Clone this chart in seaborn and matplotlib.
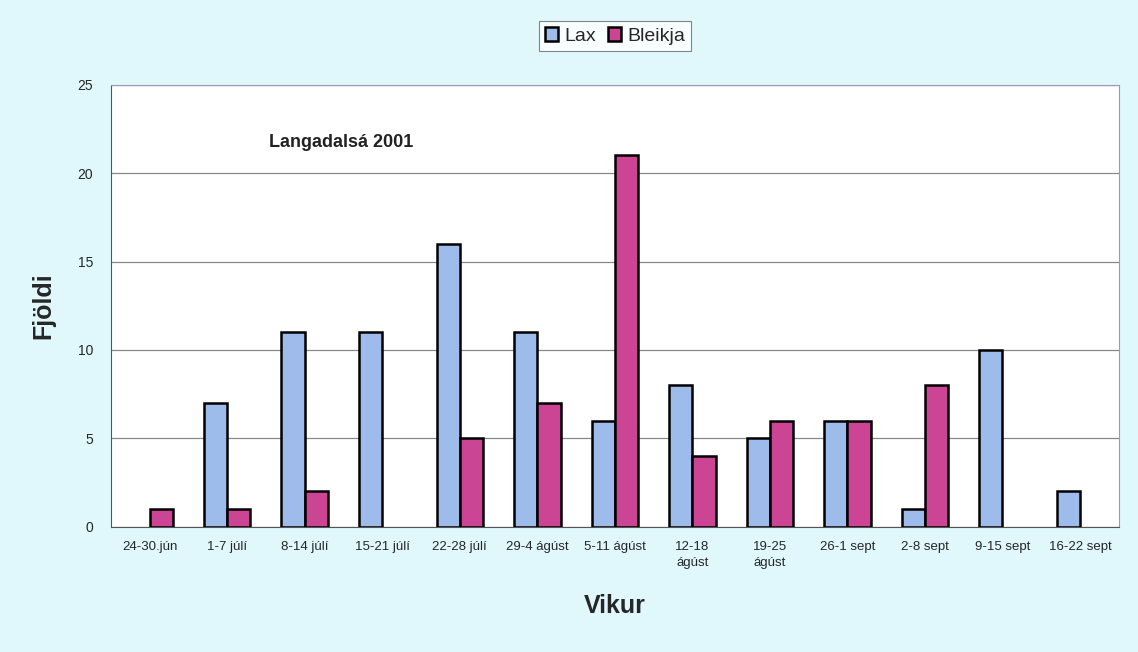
import pandas as pd
import numpy as np
import seaborn as sns
from matplotlib import pyplot as plt

vikur = ['24-30.jún', '1-7 júlí', '8-14 júlí', '15-21 júlí', '22-28 júlí',
         '29-4 ágúst', '5-11 ágúst', '12-18\nágúst', '19-25\nágúst',
         '26-1 sept', '2-8 sept', '9-15 sept', '16-22 sept']
lax = [0, 7, 11, 11, 16, 11, 6, 8, 5, 6, 1, 10, 2]
bleikja = [1, 1, 2, 0, 5, 7, 21, 4, 6, 6, 8, 0, 0]

df = pd.DataFrame({'vika': vikur * 2,
                   'fjoldi': lax + bleikja,
                   'tegund': ['Lax'] * len(vikur) + ['Bleikja'] * len(vikur)})

sns.set_style("white")
plt.rcParams['font.family'] = ['Liberation Sans', 'DejaVu Sans']

bg = '#e0f8fc'
fig = plt.figure(figsize=(11.38, 6.52), dpi=100, facecolor=bg)
ax = fig.add_axes([0.0975, 0.192, 0.8855, 0.678])
ax.set_facecolor('white')

sns.barplot(data=df, x='vika', y='fjoldi', hue='tegund',
            palette={'Lax': '#9dbcec', 'Bleikja': '#cc4494'}, saturation=1,
            width=0.6, edgecolor='black', linewidth=1.8, ax=ax, zorder=3)

# empty bars should not show an outline
for p in ax.patches:
    if p.get_height() == 0:
        p.set_linewidth(0)

ax.set_ylim(0, 25)
ax.set_xlim(-0.5, len(vikur) - 0.5)
ax.set_yticks(range(0, 26, 5))
ax.yaxis.grid(True, color='#888888', linewidth=0.9, zorder=0)
for s in ['top', 'right']:
    ax.spines[s].set_color('#9999bb')
for s in ['left', 'bottom']:
    ax.spines[s].set_color('#555555')

# ticks between the groups, Excel style
ax.set_xticks(np.arange(len(vikur)))
ax.set_xticklabels(vikur, fontsize=9.5, va='top', linespacing=1.5)
ax.set_xticks(np.arange(-0.5, len(vikur), 1), minor=True)
ax.tick_params(axis='x', which='major', length=0, pad=10)
ax.tick_params(axis='x', which='minor', length=5, direction='out', color='#555555')
ax.tick_params(axis='y', length=5, direction='out', color='#555555', labelsize=10, pad=8)

ax.set_xlabel('Vikur', fontsize=18, fontweight='bold', labelpad=18)
ax.set_ylabel('Fjöldi', fontsize=18, fontweight='bold', labelpad=16)
ax.text(0.157, 0.86, 'Langadalsá 2001', transform=ax.transAxes,
        fontsize=13, fontweight='bold', color='#222222')

leg = ax.legend(loc='center', bbox_to_anchor=(0.5, 1.11), ncol=2,
                frameon=True, fontsize=14, handlelength=0.7, handleheight=0.7,
                handletextpad=0.3, columnspacing=0.6, borderpad=0.3,
                fancybox=False, edgecolor='#666666')
leg.get_frame().set_linewidth(0.8)
for h in leg.legend_handles:
    h.set_edgecolor('black')
    h.set_linewidth(1.8)

fig.savefig('out.png', dpi=100, facecolor=bg)
